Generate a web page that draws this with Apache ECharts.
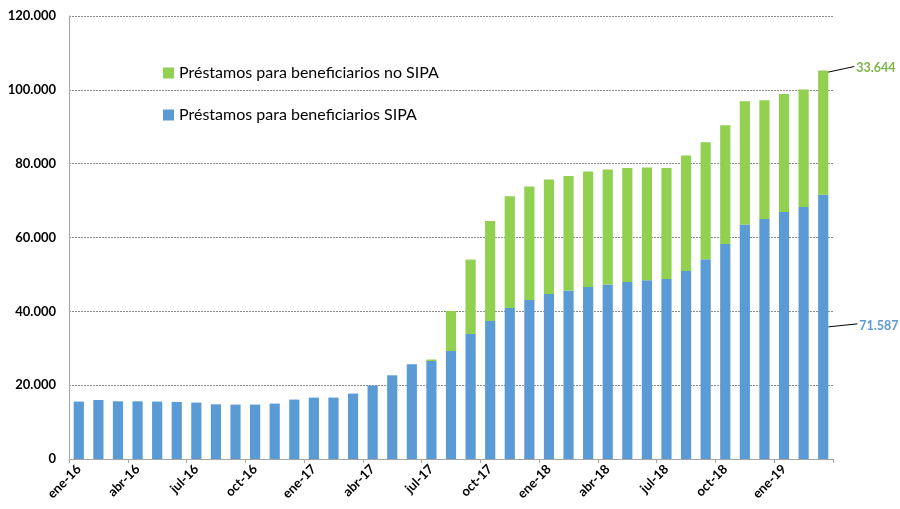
<!DOCTYPE html>
<html>
<head>
<meta charset="utf-8">
<script src="https://cdn.jsdelivr.net/npm/echarts@6/dist/echarts.min.js"></script>
<style>
  html, body { margin: 0; padding: 0; background: #fff; }
  #chart { width: 900px; height: 509px; }
</style>
</head>
<body>
<div id="chart"></div>
<script>
// meses ene-16 .. mar-19
const months = [
  'ene-16', 'feb-16', 'mar-16', 'abr-16', 'may-16', 'jun-16', 'jul-16', 'ago-16', 'sep-16', 'oct-16', 'nov-16', 'dic-16',
  'ene-17', 'feb-17', 'mar-17', 'abr-17', 'may-17', 'jun-17', 'jul-17', 'ago-17', 'sep-17', 'oct-17', 'nov-17', 'dic-17',
  'ene-18', 'feb-18', 'mar-18', 'abr-18', 'may-18', 'jun-18', 'jul-18', 'ago-18', 'sep-18', 'oct-18', 'nov-18', 'dic-18',
  'ene-19', 'feb-19', 'mar-19'
]

const sipa = [
  15550, 15980, 15630, 15630, 15550, 15440, 15280, 14820, 14740, 14740, 15010, 16090,
  16630, 16630, 17720, 19890, 22670, 25650, 26550, 29260, 33870, 37390, 40910, 43080,
  44700, 45620, 46600, 47250, 47950, 48410, 48760, 50930, 54100, 58240, 63500, 65020,
  66910, 68270, 71587
]

const noSipa = [
  0, 0, 0, 0, 0, 0, 0, 0, 0, 0, 0, 0,
  0, 0, 0, 0, 0, 0, 400, 10840, 20150, 27090, 30260, 30710,
  30990, 31050, 31260, 31150, 30900, 30530, 30070, 31260, 31690, 32160, 33400, 32150,
  31970, 31800, 33644
]

const yTicks = [0, 20000, 40000, 60000, 80000, 100000, 120000]

const BLUE = '#5b9bd5'
const GREEN = '#92d050'
const FONT = 'Lato, "Open Sans", sans-serif'
const BAR_GAP = 0.48

const fmt = v => String(v).replace(/\B(?=(\d{3})+(?!\d))/g, '.')

const chart = echarts.init(document.getElementById('chart'))

chart.setOption({
  animation: false,
  textStyle: { fontFamily: FONT },
  grid: { left: 69, right: 67, top: 16, bottom: 50 },
  legend: {
    orient: 'vertical',
    left: 158,
    top: 60,
    itemGap: 26,
    icon: 'rect',
    itemWidth: 11,
    itemHeight: 11,
    textStyle: { fontFamily: FONT, fontSize: 16, color: '#000' },
    data: ['Préstamos para beneficiarios no SIPA', 'Préstamos para beneficiarios SIPA']
  },
  xAxis: {
    type: 'category',
    data: months,
    axisLine: { lineStyle: { color: '#a6a6a6' } },
    axisTick: { show: true, interval: 2, length: 4, lineStyle: { color: '#a6a6a6' } },
    axisLabel: {
      interval: 2,
      rotate: 45,
      fontSize: 13,
      fontWeight: 'bold',
      color: '#000',
      margin: 8
    }
  },
  yAxis: {
    type: 'value',
    min: yTicks[0],
    max: yTicks[yTicks.length - 1],
    interval: 20000,
    axisLine: { show: true, lineStyle: { color: '#a6a6a6' } },
    axisTick: { show: false },
    splitLine: { lineStyle: { color: '#8c8c8c', type: [2, 1], width: 1 } },
    axisLabel: {
      fontSize: 13,
      fontWeight: 'bold',
      color: '#000',
      margin: 13,
      formatter: v => fmt(v)
    }
  },
  series: [
    {
      name: 'Préstamos para beneficiarios SIPA',
      type: 'bar',
      stack: 'total',
      barCategoryGap: (BAR_GAP * 100) + '%',
      itemStyle: { color: BLUE },
      data: sipa
    },
    {
      name: 'Préstamos para beneficiarios no SIPA',
      type: 'bar',
      stack: 'total',
      barCategoryGap: (BAR_GAP * 100) + '%',
      itemStyle: { color: GREEN },
      data: noSipa
    }
  ]
})

// end labels with leader lines, positioned from the last bar via the axes
const last = months.length - 1
const total = sipa[last] + noSipa[last]
const px = (i, v) => chart.convertToPixel({ gridIndex: 0 }, [i, v])
const band = px(1, 0)[0] - px(0, 0)[0]
const barRight = px(last, 0)[0] + band * (1 - BAR_GAP) / 2
const topY = px(last, total)[1]
const blueMidY = px(last, sipa[last] / 2)[1]

const leader = (x1, y1, x2, y2) => ({
  type: 'line',
  shape: { x1, y1, x2, y2 },
  style: { stroke: '#000', lineWidth: 1 }
})
const endText = (x, y, text, fill) => ({
  type: 'text',
  x,
  y,
  style: {
    text,
    fill,
    fontFamily: FONT,
    fontSize: 12.5,
    fontWeight: 'bold',
    textAlign: 'left',
    textVerticalAlign: 'middle'
  }
})

chart.setOption({
  graphic: [
    leader(barRight - 2, topY + 2, barRight + 26, topY - 4),
    endText(barRight + 28, topY - 3, fmt(noSipa[last]), '#7ab648'),
    leader(barRight, blueMidY, barRight + 29, blueMidY - 3),
    endText(barRight + 31, blueMidY - 1, fmt(sipa[last]), BLUE)
  ]
})
</script>
</body>
</html>
